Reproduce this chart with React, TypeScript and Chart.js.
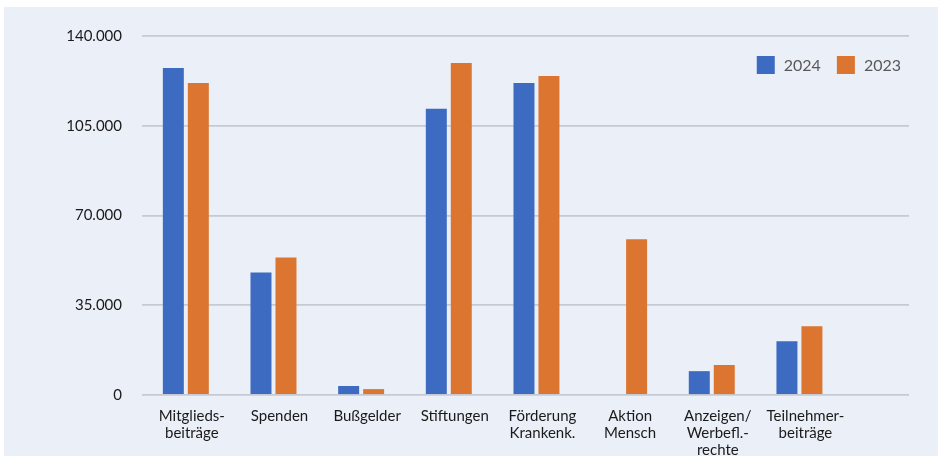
import React, { useEffect, useRef } from "react";
import { Chart, registerables } from "chart.js";

Chart.register(...registerables);

const categories: string[][] = [
  ["Mitglieds-", "beiträge"],
  ["Spenden"],
  ["Bußgelder"],
  ["Stiftungen"],
  ["Förderung", "Krankenk."],
  ["Aktion", "Mensch"],
  ["Anzeigen/", "Werbefl.-", "rechte"],
  ["Teilnehmer-", "beiträge"],
];
const seriesNames = ["2024", "2023"];
const values2024 = [127500, 47800, 3500, 111600, 121700, 0, 9300, 21000];
const values2023 = [121700, 53600, 2300, 129500, 124400, 60700, 11700, 26800];
const yMin = 0;
const yMax = 140000;
const yStep = 35000;

const BG = "#ebeff8";
const BLUE = "#3e6bc2";
const ORANGE = "#dc7530";
const FONT = "Lato, 'Open Sans', sans-serif";

function fmt(v: number): string {
  return String(Math.round(v)).replace(/\B(?=(\d{3})+(?!\d))/g, ".");
}

// Legend drawn inside the chart area, top-right, from the datasets
const insideLegend = {
  id: "insideLegend",
  afterDraw(chart: any) {
    const { ctx, chartArea } = chart;
    const box = 18;
    const gapText = 9;
    const gapItem = 16;
    ctx.save();
    ctx.font = `16px ${FONT}`;
    ctx.textBaseline = "middle";
    ctx.textAlign = "left";
    const items = chart.data.datasets.map((d: any) => ({
      label: d.label,
      color: d.backgroundColor,
      w: ctx.measureText(d.label).width,
    }));
    let total = 0;
    items.forEach((it: any, i: number) => {
      total += box + gapText + it.w + (i < items.length - 1 ? gapItem : 0);
    });
    let x = chartArea.right - 8 - total;
    const top = chartArea.top + 20;
    items.forEach((it: any) => {
      ctx.fillStyle = it.color;
      ctx.fillRect(x, top, box, box);
      x += box + gapText;
      ctx.fillStyle = "#595959";
      ctx.fillText(it.label, x, top + box / 2 + 1);
      x += it.w + gapItem;
    });
    ctx.restore();
  },
};

export default function App() {
  const ref = useRef<HTMLCanvasElement | null>(null);
  useEffect(() => {
    if (!ref.current) return;
    const chart = new Chart(ref.current, {
      type: "bar",
      data: {
        labels: categories,
        datasets: [
          {
            label: seriesNames[0],
            data: values2024,
            backgroundColor: BLUE,
            borderWidth: 0,
            categoryPercentage: 0.57,
            barPercentage: 0.84,
          },
          {
            label: seriesNames[1],
            data: values2023,
            backgroundColor: ORANGE,
            borderWidth: 0,
            categoryPercentage: 0.57,
            barPercentage: 0.84,
          },
        ],
      },
      options: {
        animation: false,
        responsive: true,
        maintainAspectRatio: false,
        layout: { padding: { top: 28, right: 29, left: 0, bottom: 0 } },
        plugins: {
          tooltip: { enabled: false },
          legend: { display: false },
        },
        scales: {
          x: {
            offset: true,
            grid: { display: false },
            border: { display: false },
            ticks: {
              color: "#1a1a1a",
              font: { family: FONT, size: 15, lineHeight: 1.13 },
              padding: 5,
              labelOffset: 6,
              maxRotation: 0,
              autoSkip: false,
            },
            afterBuildTicks: (s: any) => {
              s._valueRange = 8.75;
            },
            afterFit: (s: any) => {
              s.height = 61;
            },
          },
          y: {
            min: yMin,
            max: yMax,
            grid: { color: "#c6cad4", lineWidth: 1.8, drawTicks: false },
            border: { display: false },
            ticks: {
              stepSize: yStep,
              color: "#1a1a1a",
              font: { family: FONT, size: 15 },
              padding: 20,
              callback: (v: any) => fmt(Number(v)),
            },
            afterFit: (s: any) => {
              s.width = 138;
            },
          },
        },
      },
      plugins: [insideLegend],
    });
    return () => chart.destroy();
  }, []);

  return (
    <div
      style={{
        position: "absolute",
        left: 4,
        top: 7,
        width: 934,
        height: 449,
        background: BG,
      }}
    >
      <canvas ref={ref} />
    </div>
  );
}
